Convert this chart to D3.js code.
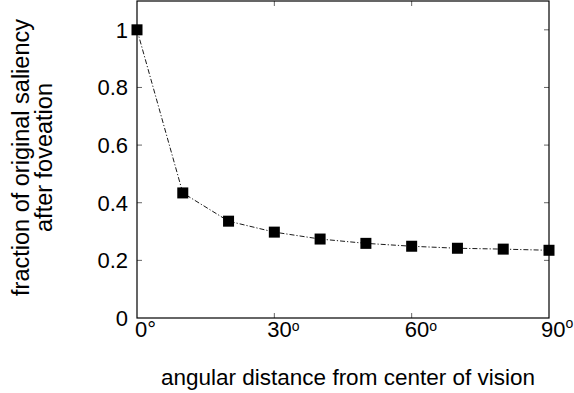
<!DOCTYPE html>
<html>
<head>
<meta charset="utf-8">
<script src="https://cdn.jsdelivr.net/npm/d3@7"></script>
<style>
  body { margin: 0; background: #fff; }
  text { font-family: "Liberation Sans", Arial, Helvetica, sans-serif; fill: #000; }
</style>
</head>
<body>
<div id="wrapper"></div>
<script>
// data
const angles = [0, 10, 20, 30, 40, 50, 60, 70, 80, 90];
const saliency = [1, 0.434, 0.336, 0.298, 0.274, 0.259, 0.249, 0.242, 0.239, 0.235];
const xTicks = [0, 30, 60, 90];
const yTicks = [0, 0.2, 0.4, 0.6, 0.8, 1];

const width = 574;
const height = 393;
const margin = { top: 1, right: 25, bottom: 75, left: 137 };
const boundedWidth = width - margin.left - margin.right;
const boundedHeight = height - margin.top - margin.bottom;

const svg = d3.select("#wrapper").append("svg")
  .attr("width", width)
  .attr("height", height);

const bounds = svg.append("g")
  .attr("transform", `translate(${margin.left},${margin.top})`);

const x = d3.scaleLinear().domain([0, 90]).range([0, boundedWidth]);
const y = d3.scaleLinear().domain([0, 1.1]).range([boundedHeight, 0]);

// tick marks on all four sides, pointing inwards
const tickLen = 5;
const tickColor = "#666";
xTicks.slice(1, -1).forEach(t => {
  bounds.append("line").attr("x1", x(t)).attr("x2", x(t))
    .attr("y1", boundedHeight).attr("y2", boundedHeight - tickLen)
    .attr("stroke", tickColor);
  bounds.append("line").attr("x1", x(t)).attr("x2", x(t))
    .attr("y1", 0).attr("y2", tickLen)
    .attr("stroke", tickColor);
});
yTicks.slice(1).forEach(t => {
  bounds.append("line").attr("x1", 0).attr("x2", tickLen)
    .attr("y1", y(t)).attr("y2", y(t))
    .attr("stroke", tickColor);
  bounds.append("line").attr("x1", boundedWidth).attr("x2", boundedWidth - tickLen)
    .attr("y1", y(t)).attr("y2", y(t))
    .attr("stroke", tickColor);
});

// frame
bounds.append("rect")
  .attr("width", boundedWidth)
  .attr("height", boundedHeight)
  .attr("fill", "none")
  .attr("stroke", "#000")
  .attr("stroke-width", 1.2);

// y tick labels
const fontSize = 22;
yTicks.forEach(t => {
  bounds.append("text")
    .attr("x", -9)
    .attr("y", y(t))
    .attr("dy", "0.36em")
    .attr("text-anchor", "end")
    .style("font-size", `${fontSize}px`)
    .text(d3.format("~g")(t));
});

// x tick labels with degree marks
xTicks.forEach(t => {
  const label = bounds.append("text")
    .attr("x", x(t) - (t === 0 ? 2 : t === 90 ? 8 : 7))
    .attr("y", boundedHeight + 19)
    .style("font-size", `${fontSize}px`);
  if (t === 0) {
    label.text("0°");
  } else {
    label.append("tspan").text(t);
    label.append("tspan")
      .attr("dy", t === 90 ? -9 : -6)
      .style("font-size", "14px")
      .text("o");
  }
});

// axis titles
bounds.append("text")
  .attr("x", boundedWidth / 2 + 5)
  .attr("y", boundedHeight + 67)
  .attr("text-anchor", "middle")
  .style("font-size", "22.5px")
  .text("angular distance from center of vision");

const yTitle = svg.append("text")
  .attr("transform", `translate(29, ${margin.top + boundedHeight / 2 - 2}) rotate(-90)`)
  .attr("text-anchor", "middle")
  .style("font-size", "23.5px");
yTitle.append("tspan").attr("x", 0).attr("y", 0).text("fraction of original saliency");
yTitle.append("tspan").attr("x", 0).attr("y", 23).text("after foveation");

// line and markers
const points = angles.map((a, i) => [a, saliency[i]]);
const lineGenerator = d3.line()
  .x(d => x(d[0]))
  .y(d => y(d[1]));

bounds.append("path")
  .attr("d", lineGenerator(points))
  .attr("fill", "none")
  .attr("stroke", "#000")
  .attr("stroke-width", 0.9)
  .attr("stroke-dasharray", "5,2,1.2,2");

const markerSize = 11;
bounds.selectAll("rect.marker")
  .data(points)
  .join("rect")
  .attr("class", "marker")
  .attr("x", d => x(d[0]) - markerSize / 2)
  .attr("y", d => y(d[1]) - markerSize / 2)
  .attr("width", markerSize)
  .attr("height", markerSize)
  .attr("fill", "#000");
</script>
</body>
</html>
